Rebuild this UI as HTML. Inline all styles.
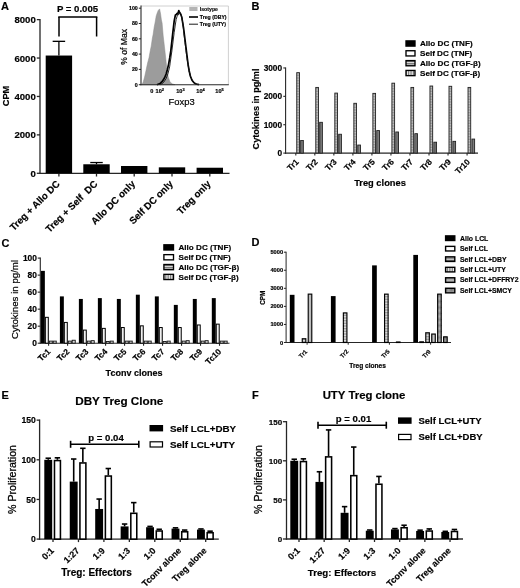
<!DOCTYPE html>
<html><head><meta charset="utf-8"><title>Figure</title>
<style>
html,body{margin:0;padding:0;background:#fff;}
body{width:520px;height:588px;overflow:hidden;font-family:"Liberation Sans",sans-serif;}
svg{display:block;font-family:"Liberation Sans",sans-serif;}
svg text{stroke:#000;stroke-width:0.18px;}
</style></head><body>
<svg width="520" height="588" viewBox="0 0 520 588">
<rect width="520" height="588" fill="#fff"/>
<filter id="soft" x="0" y="0" width="520" height="588" filterUnits="userSpaceOnUse"><feGaussianBlur stdDeviation="0.4"/></filter>
<g filter="url(#soft)">
<defs>
<pattern id="hs" width="2" height="1.6" patternUnits="userSpaceOnUse"><rect width="2" height="1.6" fill="#c4c4c4"/><rect width="2" height="0.7" fill="#8e8e8e"/></pattern>
<pattern id="vs" width="1.6" height="2" patternUnits="userSpaceOnUse"><rect width="1.6" height="2" fill="#8a8a8a"/><rect width="0.6" height="2" fill="#5c5c5c"/></pattern>
<pattern id="hsL" width="2" height="1.7" patternUnits="userSpaceOnUse"><rect width="2" height="1.7" fill="#dcdcdc"/><rect width="2" height="0.75" fill="#555"/></pattern>
<pattern id="vsL" width="1.7" height="2" patternUnits="userSpaceOnUse"><rect width="1.7" height="2" fill="#f0f0f0"/><rect width="0.65" height="2" fill="#555"/></pattern>
<pattern id="vsD" width="1.6" height="2" patternUnits="userSpaceOnUse"><rect width="1.6" height="2" fill="#d6d6d6"/><rect width="0.6" height="2" fill="#a0a0a0"/></pattern>
<pattern id="hsD" width="2" height="1.6" patternUnits="userSpaceOnUse"><rect width="2" height="1.6" fill="#e2e2e2"/><rect width="2" height="0.7" fill="#8a8a8a"/></pattern>
<pattern id="hd" width="2" height="1.2" patternUnits="userSpaceOnUse"><rect width="2" height="1.2" fill="#b4b4b4"/><rect width="2" height="0.5" fill="#8c8c8c"/></pattern>
<pattern id="dk" width="1.2" height="1.2" patternUnits="userSpaceOnUse"><rect width="1.2" height="1.2" fill="#9a9a9a"/><rect width="0.6" height="0.6" fill="#777"/></pattern>
</defs>
<text x="1.00" y="10.30" font-size="11" font-weight="bold" text-anchor="start" fill="#000">A</text>
<line x1="40.00" y1="18.97" x2="40.00" y2="173.95" stroke="#262626" stroke-width="1.3" stroke-linecap="butt"/>
<line x1="36.80" y1="173.30" x2="40.00" y2="173.30" stroke="#262626" stroke-width="1.3" stroke-linecap="butt"/>
<text x="35.80" y="176.76" font-size="9.6" font-weight="bold" text-anchor="end" fill="#000">0</text>
<line x1="36.80" y1="134.88" x2="40.00" y2="134.88" stroke="#262626" stroke-width="1.3" stroke-linecap="butt"/>
<text x="35.80" y="138.34" font-size="9.6" font-weight="bold" text-anchor="end" fill="#000">2000</text>
<line x1="36.80" y1="96.46" x2="40.00" y2="96.46" stroke="#262626" stroke-width="1.3" stroke-linecap="butt"/>
<text x="35.80" y="99.92" font-size="9.6" font-weight="bold" text-anchor="end" fill="#000">4000</text>
<line x1="36.80" y1="58.04" x2="40.00" y2="58.04" stroke="#262626" stroke-width="1.3" stroke-linecap="butt"/>
<text x="35.80" y="61.50" font-size="9.6" font-weight="bold" text-anchor="end" fill="#000">6000</text>
<line x1="36.80" y1="19.62" x2="40.00" y2="19.62" stroke="#262626" stroke-width="1.3" stroke-linecap="butt"/>
<text x="35.80" y="23.08" font-size="9.6" font-weight="bold" text-anchor="end" fill="#000">8000</text>
<text x="8.80" y="96.00" font-size="9.3" font-weight="bold" text-anchor="middle" fill="#000" transform="rotate(-90 8.80 96.00)">CPM</text>
<line x1="39.35" y1="173.30" x2="229.50" y2="173.30" stroke="#262626" stroke-width="1.3" stroke-linecap="butt"/>
<line x1="58.90" y1="173.30" x2="58.90" y2="176.50" stroke="#262626" stroke-width="1.3" stroke-linecap="butt"/>
<line x1="96.50" y1="173.30" x2="96.50" y2="176.50" stroke="#262626" stroke-width="1.3" stroke-linecap="butt"/>
<line x1="134.20" y1="173.30" x2="134.20" y2="176.50" stroke="#262626" stroke-width="1.3" stroke-linecap="butt"/>
<line x1="172.00" y1="173.30" x2="172.00" y2="176.50" stroke="#262626" stroke-width="1.3" stroke-linecap="butt"/>
<line x1="209.80" y1="173.30" x2="209.80" y2="176.50" stroke="#262626" stroke-width="1.3" stroke-linecap="butt"/>
<line x1="58.90" y1="55.54" x2="58.90" y2="41.33" stroke="#000" stroke-width="1.3" stroke-linecap="butt"/>
<line x1="52.65" y1="41.33" x2="65.15" y2="41.33" stroke="#000" stroke-width="1.3" stroke-linecap="butt"/>
<rect x="45.70" y="55.54" width="26.40" height="117.76" fill="#000"/>
<line x1="96.50" y1="164.27" x2="96.50" y2="162.54" stroke="#000" stroke-width="1.3" stroke-linecap="butt"/>
<line x1="90.25" y1="162.54" x2="102.75" y2="162.54" stroke="#000" stroke-width="1.3" stroke-linecap="butt"/>
<rect x="83.30" y="164.27" width="26.40" height="9.03" fill="#000"/>
<rect x="121.00" y="166.00" width="26.40" height="7.30" fill="#000"/>
<rect x="158.80" y="167.34" width="26.40" height="5.96" fill="#000"/>
<rect x="196.60" y="167.73" width="26.40" height="5.57" fill="#000"/>
<text x="60.50" y="184.50" font-size="9.7" font-weight="bold" text-anchor="end" fill="#000" transform="rotate(-45 60.50 184.50)">Treg + Allo DC</text>
<text x="98.10" y="184.50" font-size="9.7" font-weight="bold" text-anchor="end" fill="#000" transform="rotate(-45 98.10 184.50)">Treg + Self&#160;&#160;DC</text>
<text x="135.80" y="184.50" font-size="9.7" font-weight="bold" text-anchor="end" fill="#000" transform="rotate(-45 135.80 184.50)">Allo DC only</text>
<text x="173.60" y="184.50" font-size="9.7" font-weight="bold" text-anchor="end" fill="#000" transform="rotate(-45 173.60 184.50)">Self DC only</text>
<text x="211.40" y="184.50" font-size="9.7" font-weight="bold" text-anchor="end" fill="#000" transform="rotate(-45 211.40 184.50)">Treg only</text>
<line x1="59.00" y1="36.50" x2="59.00" y2="17.00" stroke="#000" stroke-width="1.5" stroke-linecap="butt"/>
<line x1="58.25" y1="17.00" x2="97.35" y2="17.00" stroke="#000" stroke-width="1.5" stroke-linecap="butt"/>
<line x1="96.60" y1="17.00" x2="96.60" y2="36.50" stroke="#000" stroke-width="1.5" stroke-linecap="butt"/>
<text x="77.50" y="12.20" font-size="9.6" font-weight="bold" text-anchor="middle" fill="#000">P = 0.005</text>
<path d="M141 6 L228.4 6 L228.4 84.7" fill="none" stroke="#c4c4c4" stroke-width="0.8"/>
<path d="M141.80 84.70 L143.20 82.00 L144.60 77.00 L146.00 70.50 L147.60 63.00 L149.00 57.70 L150.40 50.00 L151.20 46.20 L152.40 38.00 L153.10 34.60 L154.20 27.00 L155.00 23.00 L156.20 16.00 L157.20 13.00 L158.20 10.50 L159.60 8.90 L160.60 14.00 L161.40 20.00 L162.10 23.00 L163.20 36.00 L164.40 46.20 L165.60 57.00 L166.90 69.20 L168.20 77.00 L170.00 82.00 L172.50 84.00 L175.00 84.70 Z" fill="#9c9c9c" stroke="#8c8c8c" stroke-width="0.5" stroke-linejoin="round"/>
<path d="M156.90 84.70 L160.00 83.60 L162.70 80.80 L164.60 77.80 L166.20 73.80 L167.40 69.50 L168.50 64.60 L169.70 58.00 L170.80 50.80 L172.60 34.60 L174.20 20.80 L175.40 15.00 L176.20 14.60 L177.20 13.40 L177.90 13.80 L178.80 10.60 L179.60 12.60 L180.50 13.80 L181.80 17.30 L183.50 27.70 L185.80 46.20 L188.10 64.60 L189.20 71.00 L190.40 76.20 L192.00 80.30 L193.80 82.60 L196.00 84.00 L199.00 84.70" fill="none" stroke="#000" stroke-width="1.7" stroke-linejoin="round"/>
<path d="M160.40 84.70 L163.50 82.50 L166.20 78.50 L168.00 73.50 L169.60 66.90 L171.90 50.80 L174.20 32.30 L176.10 19.60 L177.70 14.30 L178.60 14.80 L179.50 11.40 L180.40 13.20 L181.20 14.30 L182.80 23.10 L184.60 39.20 L186.90 57.70 L189.20 71.50 L190.80 77.00 L192.70 80.80 L195.00 83.40 L198.00 84.70" fill="none" stroke="#111" stroke-width="0.9" stroke-linejoin="round"/>
<line x1="141.00" y1="5.60" x2="141.00" y2="85.25" stroke="#262626" stroke-width="1.1" stroke-linecap="butt"/>
<line x1="140.45" y1="84.70" x2="228.80" y2="84.70" stroke="#262626" stroke-width="1.1" stroke-linecap="butt"/>
<line x1="138.80" y1="84.70" x2="141.00" y2="84.70" stroke="#262626" stroke-width="1.0" stroke-linecap="butt"/>
<text x="137.80" y="86.60" font-size="5.3" font-weight="bold" text-anchor="end" fill="#000">0</text>
<line x1="138.80" y1="69.40" x2="141.00" y2="69.40" stroke="#262626" stroke-width="1.0" stroke-linecap="butt"/>
<text x="137.80" y="71.30" font-size="5.3" font-weight="bold" text-anchor="end" fill="#000">20</text>
<line x1="138.80" y1="54.10" x2="141.00" y2="54.10" stroke="#262626" stroke-width="1.0" stroke-linecap="butt"/>
<text x="137.80" y="56.00" font-size="5.3" font-weight="bold" text-anchor="end" fill="#000">40</text>
<line x1="138.80" y1="38.80" x2="141.00" y2="38.80" stroke="#262626" stroke-width="1.0" stroke-linecap="butt"/>
<text x="137.80" y="40.70" font-size="5.3" font-weight="bold" text-anchor="end" fill="#000">60</text>
<line x1="138.80" y1="23.50" x2="141.00" y2="23.50" stroke="#262626" stroke-width="1.0" stroke-linecap="butt"/>
<text x="137.80" y="25.40" font-size="5.3" font-weight="bold" text-anchor="end" fill="#000">80</text>
<line x1="138.80" y1="8.20" x2="141.00" y2="8.20" stroke="#262626" stroke-width="1.0" stroke-linecap="butt"/>
<text x="137.80" y="10.10" font-size="5.3" font-weight="bold" text-anchor="end" fill="#000">100</text>
<text x="127.20" y="46.80" font-size="8.6" font-weight="normal" text-anchor="middle" fill="#000" transform="rotate(-90 127.20 46.80)" style="stroke:#000;stroke-width:0.2px">% of Max</text>
<text x="181.60" y="104.80" font-size="9.4" font-weight="normal" text-anchor="middle" fill="#000" style="stroke:#000;stroke-width:0.2px">Foxp3</text>
<text x="151.90" y="93.20" font-size="5.6" font-weight="bold" text-anchor="middle" fill="#000">0</text>
<text x="159.8" y="93.2" font-size="5.6" font-weight="bold" text-anchor="middle" fill="#000">10<tspan dy="-2.2" font-size="4">2</tspan></text>
<text x="180.4" y="93.2" font-size="5.6" font-weight="bold" text-anchor="middle" fill="#000">10<tspan dy="-2.2" font-size="4">3</tspan></text>
<text x="200.5" y="93.2" font-size="5.6" font-weight="bold" text-anchor="middle" fill="#000">10<tspan dy="-2.2" font-size="4">4</tspan></text>
<text x="219.6" y="93.2" font-size="5.6" font-weight="bold" text-anchor="middle" fill="#000">10<tspan dy="-2.2" font-size="4">5</tspan></text>
<rect x="189.30" y="7.00" width="8.20" height="4.00" fill="#b4b4b4"/>
<text x="199.80" y="10.90" font-size="5.2" font-weight="bold" text-anchor="start" fill="#222">Isotype</text>
<line x1="189.00" y1="17.00" x2="198.00" y2="17.00" stroke="#000" stroke-width="1.6" stroke-linecap="butt"/>
<text x="199.80" y="18.90" font-size="5.2" font-weight="bold" text-anchor="start" fill="#000">Treg (DBY)</text>
<line x1="189.00" y1="24.20" x2="198.00" y2="24.20" stroke="#000" stroke-width="0.9" stroke-linecap="butt"/>
<text x="199.80" y="26.10" font-size="5.2" font-weight="bold" text-anchor="start" fill="#000">Treg (UTY)</text>
<text x="251.50" y="10.00" font-size="11" font-weight="bold" text-anchor="start" fill="#000">B</text>
<line x1="285.60" y1="67.41" x2="285.60" y2="153.65" stroke="#262626" stroke-width="1.1" stroke-linecap="butt"/>
<line x1="283.30" y1="153.10" x2="285.60" y2="153.10" stroke="#262626" stroke-width="1.1" stroke-linecap="butt"/>
<text x="282.10" y="156.09" font-size="8.3" font-weight="bold" text-anchor="end" fill="#000">0</text>
<line x1="283.30" y1="124.72" x2="285.60" y2="124.72" stroke="#262626" stroke-width="1.1" stroke-linecap="butt"/>
<text x="282.10" y="127.71" font-size="8.3" font-weight="bold" text-anchor="end" fill="#000">1000</text>
<line x1="283.30" y1="96.34" x2="285.60" y2="96.34" stroke="#262626" stroke-width="1.1" stroke-linecap="butt"/>
<text x="282.10" y="99.33" font-size="8.3" font-weight="bold" text-anchor="end" fill="#000">2000</text>
<line x1="283.30" y1="67.96" x2="285.60" y2="67.96" stroke="#262626" stroke-width="1.1" stroke-linecap="butt"/>
<text x="282.10" y="70.95" font-size="8.3" font-weight="bold" text-anchor="end" fill="#000">3000</text>
<text x="258.90" y="109.00" font-size="9.1" font-weight="bold" text-anchor="middle" fill="#000" transform="rotate(-90 258.90 109.00)">Cytokines in pg/ml</text>
<line x1="285.05" y1="153.10" x2="478.00" y2="153.10" stroke="#262626" stroke-width="1.1" stroke-linecap="butt"/>
<line x1="295.80" y1="153.10" x2="295.80" y2="155.50" stroke="#262626" stroke-width="1.1" stroke-linecap="butt"/>
<line x1="314.83" y1="153.10" x2="314.83" y2="155.50" stroke="#262626" stroke-width="1.1" stroke-linecap="butt"/>
<line x1="333.86" y1="153.10" x2="333.86" y2="155.50" stroke="#262626" stroke-width="1.1" stroke-linecap="butt"/>
<line x1="352.89" y1="153.10" x2="352.89" y2="155.50" stroke="#262626" stroke-width="1.1" stroke-linecap="butt"/>
<line x1="371.92" y1="153.10" x2="371.92" y2="155.50" stroke="#262626" stroke-width="1.1" stroke-linecap="butt"/>
<line x1="390.95" y1="153.10" x2="390.95" y2="155.50" stroke="#262626" stroke-width="1.1" stroke-linecap="butt"/>
<line x1="409.98" y1="153.10" x2="409.98" y2="155.50" stroke="#262626" stroke-width="1.1" stroke-linecap="butt"/>
<line x1="429.01" y1="153.10" x2="429.01" y2="155.50" stroke="#262626" stroke-width="1.1" stroke-linecap="butt"/>
<line x1="448.04" y1="153.10" x2="448.04" y2="155.50" stroke="#262626" stroke-width="1.1" stroke-linecap="butt"/>
<line x1="467.07" y1="153.10" x2="467.07" y2="155.50" stroke="#262626" stroke-width="1.1" stroke-linecap="butt"/>
<rect x="296.75" y="72.67" width="2.70" height="80.43" fill="url(#hs)" stroke="#222" stroke-width="0.9"/>
<rect x="300.65" y="140.50" width="2.70" height="12.60" fill="url(#vs)" stroke="#222" stroke-width="0.9"/>
<rect x="315.78" y="87.42" width="2.70" height="65.68" fill="url(#hs)" stroke="#222" stroke-width="0.9"/>
<rect x="319.68" y="122.33" width="2.70" height="30.77" fill="url(#vs)" stroke="#222" stroke-width="0.9"/>
<rect x="334.81" y="93.10" width="2.70" height="60.00" fill="url(#hs)" stroke="#222" stroke-width="0.9"/>
<rect x="338.71" y="134.25" width="2.70" height="18.85" fill="url(#vs)" stroke="#222" stroke-width="0.9"/>
<rect x="353.84" y="103.32" width="2.70" height="49.78" fill="url(#hs)" stroke="#222" stroke-width="0.9"/>
<rect x="357.74" y="145.04" width="2.70" height="8.06" fill="url(#vs)" stroke="#222" stroke-width="0.9"/>
<rect x="372.87" y="93.38" width="2.70" height="59.72" fill="url(#hs)" stroke="#222" stroke-width="0.9"/>
<rect x="376.77" y="130.56" width="2.70" height="22.54" fill="url(#vs)" stroke="#222" stroke-width="0.9"/>
<rect x="391.90" y="83.17" width="2.70" height="69.93" fill="url(#hs)" stroke="#222" stroke-width="0.9"/>
<rect x="395.80" y="131.98" width="2.70" height="21.12" fill="url(#vs)" stroke="#222" stroke-width="0.9"/>
<rect x="410.93" y="87.42" width="2.70" height="65.68" fill="url(#hs)" stroke="#222" stroke-width="0.9"/>
<rect x="414.83" y="133.68" width="2.70" height="19.42" fill="url(#vs)" stroke="#222" stroke-width="0.9"/>
<rect x="429.96" y="86.01" width="2.70" height="67.09" fill="url(#hs)" stroke="#222" stroke-width="0.9"/>
<rect x="433.86" y="142.20" width="2.70" height="10.90" fill="url(#vs)" stroke="#222" stroke-width="0.9"/>
<rect x="448.99" y="86.29" width="2.70" height="66.81" fill="url(#hs)" stroke="#222" stroke-width="0.9"/>
<rect x="452.89" y="141.35" width="2.70" height="11.75" fill="url(#vs)" stroke="#222" stroke-width="0.9"/>
<rect x="468.02" y="87.42" width="2.70" height="65.68" fill="url(#hs)" stroke="#222" stroke-width="0.9"/>
<rect x="471.92" y="139.08" width="2.70" height="14.02" fill="url(#vs)" stroke="#222" stroke-width="0.9"/>
<text x="299.30" y="162.50" font-size="8.3" font-weight="bold" text-anchor="end" fill="#000" transform="rotate(-45 299.30 162.50)">Tr1</text>
<text x="318.33" y="162.50" font-size="8.3" font-weight="bold" text-anchor="end" fill="#000" transform="rotate(-45 318.33 162.50)">Tr2</text>
<text x="337.36" y="162.50" font-size="8.3" font-weight="bold" text-anchor="end" fill="#000" transform="rotate(-45 337.36 162.50)">Tr3</text>
<text x="356.39" y="162.50" font-size="8.3" font-weight="bold" text-anchor="end" fill="#000" transform="rotate(-45 356.39 162.50)">Tr4</text>
<text x="375.42" y="162.50" font-size="8.3" font-weight="bold" text-anchor="end" fill="#000" transform="rotate(-45 375.42 162.50)">Tr5</text>
<text x="394.45" y="162.50" font-size="8.3" font-weight="bold" text-anchor="end" fill="#000" transform="rotate(-45 394.45 162.50)">Tr6</text>
<text x="413.48" y="162.50" font-size="8.3" font-weight="bold" text-anchor="end" fill="#000" transform="rotate(-45 413.48 162.50)">Tr7</text>
<text x="432.51" y="162.50" font-size="8.3" font-weight="bold" text-anchor="end" fill="#000" transform="rotate(-45 432.51 162.50)">Tr8</text>
<text x="451.54" y="162.50" font-size="8.3" font-weight="bold" text-anchor="end" fill="#000" transform="rotate(-45 451.54 162.50)">Tr9</text>
<text x="470.57" y="162.50" font-size="8.3" font-weight="bold" text-anchor="end" fill="#000" transform="rotate(-45 470.57 162.50)">Tr10</text>
<text x="380.00" y="186.30" font-size="9.3" font-weight="bold" text-anchor="middle" fill="#000">Treg clones</text>
<rect x="406.00" y="40.90" width="9.00" height="5.20" fill="#000" stroke="#000" stroke-width="1.35"/>
<text x="420.00" y="46.40" font-size="8.1" font-weight="bold" text-anchor="start" fill="#000">Allo DC (TNF)</text>
<rect x="406.00" y="50.75" width="9.00" height="5.20" fill="#fff" stroke="#000" stroke-width="1.35"/>
<text x="420.00" y="56.25" font-size="8.1" font-weight="bold" text-anchor="start" fill="#000">Self DC (TNF)</text>
<rect x="406.00" y="60.60" width="9.00" height="5.20" fill="url(#hsL)" stroke="#000" stroke-width="1.35"/>
<text x="420.00" y="66.10" font-size="8.1" font-weight="bold" text-anchor="start" fill="#000">Allo DC (TGF-&#946;)</text>
<rect x="406.00" y="70.45" width="9.00" height="5.20" fill="url(#vsL)" stroke="#000" stroke-width="1.35"/>
<text x="420.00" y="75.95" font-size="8.1" font-weight="bold" text-anchor="start" fill="#000">Self DC (TGF-&#946;)</text>
<text x="1.50" y="247.20" font-size="11" font-weight="bold" text-anchor="start" fill="#000">C</text>
<line x1="40.30" y1="257.55" x2="40.30" y2="343.75" stroke="#262626" stroke-width="1.1" stroke-linecap="butt"/>
<line x1="37.70" y1="343.20" x2="40.30" y2="343.20" stroke="#262626" stroke-width="1.1" stroke-linecap="butt"/>
<text x="36.90" y="346.22" font-size="8.4" font-weight="bold" text-anchor="end" fill="#000">0</text>
<line x1="37.70" y1="326.18" x2="40.30" y2="326.18" stroke="#262626" stroke-width="1.1" stroke-linecap="butt"/>
<text x="36.90" y="329.20" font-size="8.4" font-weight="bold" text-anchor="end" fill="#000">20</text>
<line x1="37.70" y1="309.16" x2="40.30" y2="309.16" stroke="#262626" stroke-width="1.1" stroke-linecap="butt"/>
<text x="36.90" y="312.18" font-size="8.4" font-weight="bold" text-anchor="end" fill="#000">40</text>
<line x1="37.70" y1="292.14" x2="40.30" y2="292.14" stroke="#262626" stroke-width="1.1" stroke-linecap="butt"/>
<text x="36.90" y="295.16" font-size="8.4" font-weight="bold" text-anchor="end" fill="#000">60</text>
<line x1="37.70" y1="275.12" x2="40.30" y2="275.12" stroke="#262626" stroke-width="1.1" stroke-linecap="butt"/>
<text x="36.90" y="278.14" font-size="8.4" font-weight="bold" text-anchor="end" fill="#000">80</text>
<line x1="37.70" y1="258.10" x2="40.30" y2="258.10" stroke="#262626" stroke-width="1.1" stroke-linecap="butt"/>
<text x="36.90" y="261.12" font-size="8.4" font-weight="bold" text-anchor="end" fill="#000">100</text>
<text x="18.30" y="299.50" font-size="9.7" font-weight="normal" text-anchor="middle" fill="#000" transform="rotate(-90 18.30 299.50)" style="stroke:#000;stroke-width:0.22px">Cytokines in pg/ml</text>
<line x1="39.75" y1="343.20" x2="229.50" y2="343.20" stroke="#262626" stroke-width="1.1" stroke-linecap="butt"/>
<line x1="48.60" y1="343.20" x2="48.60" y2="345.80" stroke="#262626" stroke-width="1.1" stroke-linecap="butt"/>
<line x1="67.59" y1="343.20" x2="67.59" y2="345.80" stroke="#262626" stroke-width="1.1" stroke-linecap="butt"/>
<line x1="86.58" y1="343.20" x2="86.58" y2="345.80" stroke="#262626" stroke-width="1.1" stroke-linecap="butt"/>
<line x1="105.57" y1="343.20" x2="105.57" y2="345.80" stroke="#262626" stroke-width="1.1" stroke-linecap="butt"/>
<line x1="124.56" y1="343.20" x2="124.56" y2="345.80" stroke="#262626" stroke-width="1.1" stroke-linecap="butt"/>
<line x1="143.55" y1="343.20" x2="143.55" y2="345.80" stroke="#262626" stroke-width="1.1" stroke-linecap="butt"/>
<line x1="162.54" y1="343.20" x2="162.54" y2="345.80" stroke="#262626" stroke-width="1.1" stroke-linecap="butt"/>
<line x1="181.53" y1="343.20" x2="181.53" y2="345.80" stroke="#262626" stroke-width="1.1" stroke-linecap="butt"/>
<line x1="200.52" y1="343.20" x2="200.52" y2="345.80" stroke="#262626" stroke-width="1.1" stroke-linecap="butt"/>
<line x1="219.51" y1="343.20" x2="219.51" y2="345.80" stroke="#262626" stroke-width="1.1" stroke-linecap="butt"/>
<rect x="40.90" y="270.87" width="3.95" height="72.33" fill="#000"/>
<rect x="45.35" y="317.32" width="2.95" height="25.88" fill="#f0f0f0" stroke="#000" stroke-width="1.0"/>
<rect x="49.25" y="341.10" width="3.05" height="2.10" fill="#d8d8d8" stroke="#111" stroke-width="0.9"/>
<rect x="53.20" y="341.10" width="3.05" height="2.10" fill="#d8d8d8" stroke="#111" stroke-width="0.9"/>
<rect x="59.89" y="296.39" width="3.95" height="46.81" fill="#000"/>
<rect x="64.34" y="322.43" width="2.95" height="20.77" fill="#f0f0f0" stroke="#000" stroke-width="1.0"/>
<rect x="68.24" y="341.10" width="3.05" height="2.10" fill="#d8d8d8" stroke="#111" stroke-width="0.9"/>
<rect x="72.19" y="340.25" width="3.05" height="2.95" fill="#d8d8d8" stroke="#111" stroke-width="0.9"/>
<rect x="78.88" y="298.95" width="3.95" height="44.25" fill="#000"/>
<rect x="83.33" y="330.08" width="2.95" height="13.12" fill="#f0f0f0" stroke="#000" stroke-width="1.0"/>
<rect x="87.23" y="341.10" width="3.05" height="2.10" fill="#d8d8d8" stroke="#111" stroke-width="0.9"/>
<rect x="91.18" y="340.67" width="3.05" height="2.53" fill="#d8d8d8" stroke="#111" stroke-width="0.9"/>
<rect x="97.87" y="298.10" width="3.95" height="45.10" fill="#000"/>
<rect x="102.32" y="328.38" width="2.95" height="14.82" fill="#f0f0f0" stroke="#000" stroke-width="1.0"/>
<rect x="106.22" y="341.52" width="3.05" height="1.68" fill="#d8d8d8" stroke="#111" stroke-width="0.9"/>
<rect x="110.17" y="341.10" width="3.05" height="2.10" fill="#d8d8d8" stroke="#111" stroke-width="0.9"/>
<rect x="116.86" y="298.95" width="3.95" height="44.25" fill="#000"/>
<rect x="121.31" y="327.53" width="2.95" height="15.67" fill="#f0f0f0" stroke="#000" stroke-width="1.0"/>
<rect x="125.21" y="341.10" width="3.05" height="2.10" fill="#d8d8d8" stroke="#111" stroke-width="0.9"/>
<rect x="129.16" y="341.10" width="3.05" height="2.10" fill="#d8d8d8" stroke="#111" stroke-width="0.9"/>
<rect x="135.85" y="294.69" width="3.95" height="48.51" fill="#000"/>
<rect x="140.30" y="325.83" width="2.95" height="17.37" fill="#f0f0f0" stroke="#000" stroke-width="1.0"/>
<rect x="144.20" y="341.10" width="3.05" height="2.10" fill="#d8d8d8" stroke="#111" stroke-width="0.9"/>
<rect x="148.15" y="341.10" width="3.05" height="2.10" fill="#d8d8d8" stroke="#111" stroke-width="0.9"/>
<rect x="154.84" y="296.39" width="3.95" height="46.81" fill="#000"/>
<rect x="159.29" y="327.53" width="2.95" height="15.67" fill="#f0f0f0" stroke="#000" stroke-width="1.0"/>
<rect x="163.19" y="341.52" width="3.05" height="1.68" fill="#d8d8d8" stroke="#111" stroke-width="0.9"/>
<rect x="167.14" y="341.10" width="3.05" height="2.10" fill="#d8d8d8" stroke="#111" stroke-width="0.9"/>
<rect x="173.83" y="304.90" width="3.95" height="38.30" fill="#000"/>
<rect x="178.28" y="327.53" width="2.95" height="15.67" fill="#f0f0f0" stroke="#000" stroke-width="1.0"/>
<rect x="182.18" y="341.10" width="3.05" height="2.10" fill="#d8d8d8" stroke="#111" stroke-width="0.9"/>
<rect x="186.13" y="340.67" width="3.05" height="2.53" fill="#d8d8d8" stroke="#111" stroke-width="0.9"/>
<rect x="192.82" y="298.95" width="3.95" height="44.25" fill="#000"/>
<rect x="197.27" y="324.98" width="2.95" height="18.22" fill="#f0f0f0" stroke="#000" stroke-width="1.0"/>
<rect x="201.17" y="341.10" width="3.05" height="2.10" fill="#d8d8d8" stroke="#111" stroke-width="0.9"/>
<rect x="205.12" y="340.67" width="3.05" height="2.53" fill="#d8d8d8" stroke="#111" stroke-width="0.9"/>
<rect x="211.81" y="298.10" width="3.95" height="45.10" fill="#000"/>
<rect x="216.26" y="324.13" width="2.95" height="19.07" fill="#f0f0f0" stroke="#000" stroke-width="1.0"/>
<rect x="220.16" y="341.10" width="3.05" height="2.10" fill="#d8d8d8" stroke="#111" stroke-width="0.9"/>
<rect x="224.11" y="341.10" width="3.05" height="2.10" fill="#d8d8d8" stroke="#111" stroke-width="0.9"/>
<text x="51.00" y="352.10" font-size="8.4" font-weight="bold" text-anchor="end" fill="#000" transform="rotate(-45 51.00 352.10)">Tc1</text>
<text x="69.99" y="352.10" font-size="8.4" font-weight="bold" text-anchor="end" fill="#000" transform="rotate(-45 69.99 352.10)">Tc2</text>
<text x="88.98" y="352.10" font-size="8.4" font-weight="bold" text-anchor="end" fill="#000" transform="rotate(-45 88.98 352.10)">Tc3</text>
<text x="107.97" y="352.10" font-size="8.4" font-weight="bold" text-anchor="end" fill="#000" transform="rotate(-45 107.97 352.10)">Tc4</text>
<text x="126.96" y="352.10" font-size="8.4" font-weight="bold" text-anchor="end" fill="#000" transform="rotate(-45 126.96 352.10)">Tc5</text>
<text x="145.95" y="352.10" font-size="8.4" font-weight="bold" text-anchor="end" fill="#000" transform="rotate(-45 145.95 352.10)">Tc6</text>
<text x="164.94" y="352.10" font-size="8.4" font-weight="bold" text-anchor="end" fill="#000" transform="rotate(-45 164.94 352.10)">Tc7</text>
<text x="183.93" y="352.10" font-size="8.4" font-weight="bold" text-anchor="end" fill="#000" transform="rotate(-45 183.93 352.10)">Tc8</text>
<text x="202.92" y="352.10" font-size="8.4" font-weight="bold" text-anchor="end" fill="#000" transform="rotate(-45 202.92 352.10)">Tc9</text>
<text x="221.91" y="352.10" font-size="8.4" font-weight="bold" text-anchor="end" fill="#000" transform="rotate(-45 221.91 352.10)">Tc10</text>
<text x="134.00" y="375.80" font-size="9.0" font-weight="bold" text-anchor="middle" fill="#000">Tconv clones</text>
<rect x="163.90" y="244.80" width="9.60" height="5.20" fill="#000" stroke="#000" stroke-width="1.35"/>
<text x="178.50" y="250.30" font-size="8.1" font-weight="bold" text-anchor="start" fill="#000">Allo DC (TNF)</text>
<rect x="163.90" y="254.65" width="9.60" height="5.20" fill="#fff" stroke="#000" stroke-width="1.35"/>
<text x="178.50" y="260.15" font-size="8.1" font-weight="bold" text-anchor="start" fill="#000">Self DC (TNF)</text>
<rect x="163.90" y="264.50" width="9.60" height="5.20" fill="url(#hsL)" stroke="#000" stroke-width="1.35"/>
<text x="178.50" y="270.00" font-size="8.1" font-weight="bold" text-anchor="start" fill="#000">Allo DC (TGF-&#946;)</text>
<rect x="163.90" y="274.35" width="9.60" height="5.20" fill="url(#vsL)" stroke="#000" stroke-width="1.35"/>
<text x="178.50" y="279.85" font-size="8.1" font-weight="bold" text-anchor="start" fill="#000">Self DC (TGF-&#946;)</text>
<text x="251.50" y="246.40" font-size="11" font-weight="bold" text-anchor="start" fill="#000">D</text>
<line x1="286.10" y1="251.70" x2="286.10" y2="343.00" stroke="#262626" stroke-width="1.0" stroke-linecap="butt"/>
<line x1="283.90" y1="342.50" x2="286.10" y2="342.50" stroke="#262626" stroke-width="1.0" stroke-linecap="butt"/>
<text x="283.10" y="344.55" font-size="5.7" font-weight="bold" text-anchor="end" fill="#000">0</text>
<line x1="283.90" y1="324.44" x2="286.10" y2="324.44" stroke="#262626" stroke-width="1.0" stroke-linecap="butt"/>
<text x="283.10" y="326.49" font-size="5.7" font-weight="bold" text-anchor="end" fill="#000">1000</text>
<line x1="283.90" y1="306.38" x2="286.10" y2="306.38" stroke="#262626" stroke-width="1.0" stroke-linecap="butt"/>
<text x="283.10" y="308.43" font-size="5.7" font-weight="bold" text-anchor="end" fill="#000">2000</text>
<line x1="283.90" y1="288.32" x2="286.10" y2="288.32" stroke="#262626" stroke-width="1.0" stroke-linecap="butt"/>
<text x="283.10" y="290.37" font-size="5.7" font-weight="bold" text-anchor="end" fill="#000">3000</text>
<line x1="283.90" y1="270.26" x2="286.10" y2="270.26" stroke="#262626" stroke-width="1.0" stroke-linecap="butt"/>
<text x="283.10" y="272.31" font-size="5.7" font-weight="bold" text-anchor="end" fill="#000">4000</text>
<line x1="283.90" y1="252.20" x2="286.10" y2="252.20" stroke="#262626" stroke-width="1.0" stroke-linecap="butt"/>
<text x="283.10" y="254.25" font-size="5.7" font-weight="bold" text-anchor="end" fill="#000">5000</text>
<text x="264.80" y="297.70" font-size="6.4" font-weight="bold" text-anchor="middle" fill="#000" transform="rotate(-90 264.80 297.70)">CPM</text>
<line x1="285.60" y1="342.50" x2="451.00" y2="342.50" stroke="#262626" stroke-width="1.0" stroke-linecap="butt"/>
<line x1="307.10" y1="342.50" x2="307.10" y2="344.70" stroke="#262626" stroke-width="1.0" stroke-linecap="butt"/>
<line x1="348.20" y1="342.50" x2="348.20" y2="344.70" stroke="#262626" stroke-width="1.0" stroke-linecap="butt"/>
<line x1="389.40" y1="342.50" x2="389.40" y2="344.70" stroke="#262626" stroke-width="1.0" stroke-linecap="butt"/>
<line x1="430.60" y1="342.50" x2="430.60" y2="344.70" stroke="#262626" stroke-width="1.0" stroke-linecap="butt"/>
<rect x="289.80" y="294.82" width="4.70" height="47.68" fill="#000"/>
<rect x="302.27" y="338.74" width="3.55" height="3.76" fill="url(#hsD)" stroke="#000" stroke-width="1.15"/>
<rect x="308.23" y="294.13" width="3.55" height="48.37" fill="url(#vsD)" stroke="#000" stroke-width="1.15"/>
<rect x="330.90" y="296.09" width="4.70" height="46.41" fill="#000"/>
<rect x="343.37" y="312.91" width="3.55" height="29.59" fill="url(#hsD)" stroke="#000" stroke-width="1.15"/>
<rect x="372.10" y="265.38" width="4.70" height="77.12" fill="#000"/>
<rect x="384.57" y="294.13" width="3.55" height="48.37" fill="url(#hsD)" stroke="#000" stroke-width="1.15"/>
<rect x="396.47" y="341.99" width="3.55" height="0.51" fill="url(#hd)" stroke="#000" stroke-width="1.15"/>
<rect x="413.30" y="254.91" width="4.70" height="87.59" fill="#000"/>
<rect x="419.82" y="341.81" width="3.55" height="0.69" fill="#fff" stroke="#000" stroke-width="1.15"/>
<rect x="425.77" y="332.78" width="3.55" height="9.72" fill="url(#hsD)" stroke="#000" stroke-width="1.15"/>
<rect x="431.73" y="334.05" width="3.55" height="8.45" fill="url(#vsD)" stroke="#000" stroke-width="1.15"/>
<rect x="437.68" y="294.13" width="3.55" height="48.37" fill="url(#hd)" stroke="#000" stroke-width="1.15"/>
<rect x="443.62" y="336.84" width="3.55" height="5.66" fill="url(#dk)" stroke="#000" stroke-width="1.15"/>
<text x="307.70" y="352.00" font-size="6.0" font-weight="bold" text-anchor="end" fill="#000" transform="rotate(-45 307.70 352.00)">Tr1</text>
<text x="348.80" y="352.00" font-size="6.0" font-weight="bold" text-anchor="end" fill="#000" transform="rotate(-45 348.80 352.00)">Tr2</text>
<text x="390.00" y="352.00" font-size="6.0" font-weight="bold" text-anchor="end" fill="#000" transform="rotate(-45 390.00 352.00)">Tr5</text>
<text x="431.20" y="352.00" font-size="6.0" font-weight="bold" text-anchor="end" fill="#000" transform="rotate(-45 431.20 352.00)">Tr9</text>
<text x="367.60" y="367.80" font-size="6.6" font-weight="bold" text-anchor="middle" fill="#000">Treg clones</text>
<rect x="445.60" y="235.90" width="9.20" height="4.60" fill="#000" stroke="#000" stroke-width="1.4"/>
<text x="460.00" y="240.60" font-size="6.9" font-weight="bold" text-anchor="start" fill="#000">Allo LCL</text>
<rect x="445.60" y="246.37" width="9.20" height="4.60" fill="#fff" stroke="#000" stroke-width="1.4"/>
<text x="460.00" y="251.07" font-size="6.9" font-weight="bold" text-anchor="start" fill="#000">Self LCL</text>
<rect x="445.60" y="256.84" width="9.20" height="4.60" fill="url(#hsL)" stroke="#000" stroke-width="1.4"/>
<text x="460.00" y="261.54" font-size="6.9" font-weight="bold" text-anchor="start" fill="#000">Self LCL+DBY</text>
<rect x="445.60" y="267.31" width="9.20" height="4.60" fill="url(#vsL)" stroke="#000" stroke-width="1.4"/>
<text x="460.00" y="272.01" font-size="6.9" font-weight="bold" text-anchor="start" fill="#000">Self LCL+UTY</text>
<rect x="445.60" y="277.78" width="9.20" height="4.60" fill="url(#hd)" stroke="#000" stroke-width="1.4"/>
<text x="460.00" y="282.48" font-size="6.9" font-weight="bold" text-anchor="start" fill="#000">Self LCL+DFFRY2</text>
<rect x="445.60" y="288.25" width="9.20" height="4.60" fill="url(#dk)" stroke="#000" stroke-width="1.4"/>
<text x="460.00" y="292.95" font-size="6.9" font-weight="bold" text-anchor="start" fill="#000">Self LCL+SMCY</text>
<text x="1.50" y="399.20" font-size="11" font-weight="bold" text-anchor="start" fill="#000">E</text>
<text x="119.30" y="404.90" font-size="11.7" font-weight="bold" text-anchor="middle" fill="#000">DBY Treg Clone</text>
<line x1="39.60" y1="419.50" x2="39.60" y2="539.75" stroke="#262626" stroke-width="1.3" stroke-linecap="butt"/>
<line x1="36.60" y1="539.10" x2="39.60" y2="539.10" stroke="#262626" stroke-width="1.3" stroke-linecap="butt"/>
<text x="35.80" y="542.20" font-size="8.6" font-weight="bold" text-anchor="end" fill="#000">0</text>
<line x1="36.60" y1="499.45" x2="39.60" y2="499.45" stroke="#262626" stroke-width="1.3" stroke-linecap="butt"/>
<text x="35.80" y="502.55" font-size="8.6" font-weight="bold" text-anchor="end" fill="#000">50</text>
<line x1="36.60" y1="459.80" x2="39.60" y2="459.80" stroke="#262626" stroke-width="1.3" stroke-linecap="butt"/>
<text x="35.80" y="462.90" font-size="8.6" font-weight="bold" text-anchor="end" fill="#000">100</text>
<line x1="36.60" y1="420.15" x2="39.60" y2="420.15" stroke="#262626" stroke-width="1.3" stroke-linecap="butt"/>
<text x="35.80" y="423.25" font-size="8.6" font-weight="bold" text-anchor="end" fill="#000">150</text>
<text x="16.00" y="479.50" font-size="10.6" font-weight="normal" text-anchor="middle" fill="#000" transform="rotate(-90 16.00 479.50)" style="stroke:#000;stroke-width:0.28px">% Proliferation</text>
<line x1="38.95" y1="539.10" x2="218.80" y2="539.10" stroke="#262626" stroke-width="1.3" stroke-linecap="butt"/>
<line x1="53.00" y1="539.10" x2="53.00" y2="542.10" stroke="#262626" stroke-width="1.3" stroke-linecap="butt"/>
<line x1="78.45" y1="539.10" x2="78.45" y2="542.10" stroke="#262626" stroke-width="1.3" stroke-linecap="butt"/>
<line x1="103.90" y1="539.10" x2="103.90" y2="542.10" stroke="#262626" stroke-width="1.3" stroke-linecap="butt"/>
<line x1="129.35" y1="539.10" x2="129.35" y2="542.10" stroke="#262626" stroke-width="1.3" stroke-linecap="butt"/>
<line x1="154.80" y1="539.10" x2="154.80" y2="542.10" stroke="#262626" stroke-width="1.3" stroke-linecap="butt"/>
<line x1="180.25" y1="539.10" x2="180.25" y2="542.10" stroke="#262626" stroke-width="1.3" stroke-linecap="butt"/>
<line x1="205.70" y1="539.10" x2="205.70" y2="542.10" stroke="#262626" stroke-width="1.3" stroke-linecap="butt"/>
<line x1="48.25" y1="459.80" x2="48.25" y2="458.21" stroke="#000" stroke-width="1.6" stroke-linecap="butt"/>
<line x1="45.55" y1="458.21" x2="50.95" y2="458.21" stroke="#000" stroke-width="1.6" stroke-linecap="butt"/>
<rect x="44.30" y="459.80" width="7.90" height="79.30" fill="#000"/>
<line x1="57.40" y1="459.80" x2="57.40" y2="457.82" stroke="#000" stroke-width="1.6" stroke-linecap="butt"/>
<line x1="54.70" y1="457.82" x2="60.10" y2="457.82" stroke="#000" stroke-width="1.6" stroke-linecap="butt"/>
<rect x="54.48" y="460.57" width="5.95" height="78.53" fill="#fff" stroke="#000" stroke-width="1.55"/>
<line x1="73.70" y1="481.61" x2="73.70" y2="459.01" stroke="#000" stroke-width="1.6" stroke-linecap="butt"/>
<line x1="71.00" y1="459.01" x2="76.40" y2="459.01" stroke="#000" stroke-width="1.6" stroke-linecap="butt"/>
<rect x="69.75" y="481.61" width="7.90" height="57.49" fill="#000"/>
<line x1="82.85" y1="462.18" x2="82.85" y2="448.30" stroke="#000" stroke-width="1.6" stroke-linecap="butt"/>
<line x1="80.15" y1="448.30" x2="85.55" y2="448.30" stroke="#000" stroke-width="1.6" stroke-linecap="butt"/>
<rect x="79.93" y="462.95" width="5.95" height="76.15" fill="#fff" stroke="#000" stroke-width="1.55"/>
<line x1="99.15" y1="508.97" x2="99.15" y2="499.05" stroke="#000" stroke-width="1.6" stroke-linecap="butt"/>
<line x1="96.45" y1="499.05" x2="101.85" y2="499.05" stroke="#000" stroke-width="1.6" stroke-linecap="butt"/>
<rect x="95.20" y="508.97" width="7.90" height="30.13" fill="#000"/>
<line x1="108.30" y1="475.26" x2="108.30" y2="468.52" stroke="#000" stroke-width="1.6" stroke-linecap="butt"/>
<line x1="105.60" y1="468.52" x2="111.00" y2="468.52" stroke="#000" stroke-width="1.6" stroke-linecap="butt"/>
<rect x="105.38" y="476.04" width="5.95" height="63.06" fill="#fff" stroke="#000" stroke-width="1.55"/>
<line x1="124.60" y1="526.41" x2="124.60" y2="524.03" stroke="#000" stroke-width="1.6" stroke-linecap="butt"/>
<line x1="121.90" y1="524.03" x2="127.30" y2="524.03" stroke="#000" stroke-width="1.6" stroke-linecap="butt"/>
<rect x="120.65" y="526.41" width="7.90" height="12.69" fill="#000"/>
<line x1="133.75" y1="512.53" x2="133.75" y2="502.62" stroke="#000" stroke-width="1.6" stroke-linecap="butt"/>
<line x1="131.05" y1="502.62" x2="136.45" y2="502.62" stroke="#000" stroke-width="1.6" stroke-linecap="butt"/>
<rect x="130.82" y="513.31" width="5.95" height="25.79" fill="#fff" stroke="#000" stroke-width="1.55"/>
<line x1="150.05" y1="527.21" x2="150.05" y2="526.41" stroke="#000" stroke-width="1.6" stroke-linecap="butt"/>
<line x1="147.35" y1="526.41" x2="152.75" y2="526.41" stroke="#000" stroke-width="1.6" stroke-linecap="butt"/>
<rect x="146.10" y="527.21" width="7.90" height="11.89" fill="#000"/>
<line x1="159.20" y1="530.22" x2="159.20" y2="529.27" stroke="#000" stroke-width="1.6" stroke-linecap="butt"/>
<line x1="156.50" y1="529.27" x2="161.90" y2="529.27" stroke="#000" stroke-width="1.6" stroke-linecap="butt"/>
<rect x="156.28" y="530.99" width="5.95" height="8.11" fill="#fff" stroke="#000" stroke-width="1.55"/>
<line x1="175.50" y1="528.63" x2="175.50" y2="527.84" stroke="#000" stroke-width="1.6" stroke-linecap="butt"/>
<line x1="172.80" y1="527.84" x2="178.20" y2="527.84" stroke="#000" stroke-width="1.6" stroke-linecap="butt"/>
<rect x="171.55" y="528.63" width="7.90" height="10.47" fill="#000"/>
<line x1="184.65" y1="531.01" x2="184.65" y2="530.06" stroke="#000" stroke-width="1.6" stroke-linecap="butt"/>
<line x1="181.95" y1="530.06" x2="187.35" y2="530.06" stroke="#000" stroke-width="1.6" stroke-linecap="butt"/>
<rect x="181.72" y="531.79" width="5.95" height="7.31" fill="#fff" stroke="#000" stroke-width="1.55"/>
<line x1="200.95" y1="529.58" x2="200.95" y2="528.95" stroke="#000" stroke-width="1.6" stroke-linecap="butt"/>
<line x1="198.25" y1="528.95" x2="203.65" y2="528.95" stroke="#000" stroke-width="1.6" stroke-linecap="butt"/>
<rect x="197.00" y="529.58" width="7.90" height="9.52" fill="#000"/>
<line x1="210.10" y1="531.96" x2="210.10" y2="531.17" stroke="#000" stroke-width="1.6" stroke-linecap="butt"/>
<line x1="207.40" y1="531.17" x2="212.80" y2="531.17" stroke="#000" stroke-width="1.6" stroke-linecap="butt"/>
<rect x="207.17" y="532.74" width="5.95" height="6.36" fill="#fff" stroke="#000" stroke-width="1.55"/>
<text x="54.50" y="551.20" font-size="8.9" font-weight="bold" text-anchor="end" fill="#000" transform="rotate(-45 54.50 551.20)">0:1</text>
<text x="79.95" y="551.20" font-size="8.9" font-weight="bold" text-anchor="end" fill="#000" transform="rotate(-45 79.95 551.20)">1:27</text>
<text x="105.40" y="551.20" font-size="8.9" font-weight="bold" text-anchor="end" fill="#000" transform="rotate(-45 105.40 551.20)">1:9</text>
<text x="130.85" y="551.20" font-size="8.9" font-weight="bold" text-anchor="end" fill="#000" transform="rotate(-45 130.85 551.20)">1:3</text>
<text x="156.30" y="551.20" font-size="8.9" font-weight="bold" text-anchor="end" fill="#000" transform="rotate(-45 156.30 551.20)">1:0</text>
<text x="181.75" y="551.20" font-size="8.9" font-weight="bold" text-anchor="end" fill="#000" transform="rotate(-45 181.75 551.20)">Tconv alone</text>
<text x="207.20" y="551.20" font-size="8.9" font-weight="bold" text-anchor="end" fill="#000" transform="rotate(-45 207.20 551.20)">Treg alone</text>
<text x="96.50" y="575.60" font-size="10.0" font-weight="bold" text-anchor="middle" fill="#000">Treg: Effectors</text>
<line x1="70.60" y1="444.30" x2="138.80" y2="444.30" stroke="#000" stroke-width="1.6" stroke-linecap="butt"/>
<line x1="70.60" y1="440.80" x2="70.60" y2="447.80" stroke="#000" stroke-width="1.6" stroke-linecap="butt"/>
<line x1="138.80" y1="440.80" x2="138.80" y2="447.80" stroke="#000" stroke-width="1.6" stroke-linecap="butt"/>
<text x="106.00" y="441.00" font-size="9.6" font-weight="bold" text-anchor="middle" fill="#000">p = 0.04</text>
<rect x="149.50" y="425.00" width="13.60" height="6.40" fill="#000"/>
<rect x="150.10" y="441.80" width="12.40" height="5.20" fill="#fff" stroke="#000" stroke-width="1.2"/>
<text x="170.00" y="431.60" font-size="9.8" font-weight="bold" text-anchor="start" fill="#000">Self LCL+DBY</text>
<text x="170.00" y="447.80" font-size="9.8" font-weight="bold" text-anchor="start" fill="#000">Self LCL+UTY</text>
<text x="252.00" y="399.20" font-size="11" font-weight="bold" text-anchor="start" fill="#000">F</text>
<text x="364.00" y="398.90" font-size="11.4" font-weight="bold" text-anchor="middle" fill="#000">UTY Treg clone</text>
<line x1="286.50" y1="421.05" x2="286.50" y2="539.65" stroke="#262626" stroke-width="1.3" stroke-linecap="butt"/>
<line x1="282.90" y1="539.00" x2="286.50" y2="539.00" stroke="#262626" stroke-width="1.3" stroke-linecap="butt"/>
<text x="282.10" y="541.88" font-size="8.0" font-weight="bold" text-anchor="end" fill="#000">0</text>
<line x1="282.90" y1="499.90" x2="286.50" y2="499.90" stroke="#262626" stroke-width="1.3" stroke-linecap="butt"/>
<text x="282.10" y="502.78" font-size="8.0" font-weight="bold" text-anchor="end" fill="#000">50</text>
<line x1="282.90" y1="460.80" x2="286.50" y2="460.80" stroke="#262626" stroke-width="1.3" stroke-linecap="butt"/>
<text x="282.10" y="463.68" font-size="8.0" font-weight="bold" text-anchor="end" fill="#000">100</text>
<line x1="282.90" y1="421.70" x2="286.50" y2="421.70" stroke="#262626" stroke-width="1.3" stroke-linecap="butt"/>
<text x="282.10" y="424.58" font-size="8.0" font-weight="bold" text-anchor="end" fill="#000">150</text>
<text x="261.50" y="479.50" font-size="10.6" font-weight="normal" text-anchor="middle" fill="#000" transform="rotate(-90 261.50 479.50)" style="stroke:#000;stroke-width:0.28px">% Proliferation</text>
<line x1="285.85" y1="539.00" x2="463.00" y2="539.00" stroke="#262626" stroke-width="1.3" stroke-linecap="butt"/>
<line x1="299.00" y1="539.00" x2="299.00" y2="542.00" stroke="#262626" stroke-width="1.3" stroke-linecap="butt"/>
<line x1="324.17" y1="539.00" x2="324.17" y2="542.00" stroke="#262626" stroke-width="1.3" stroke-linecap="butt"/>
<line x1="349.34" y1="539.00" x2="349.34" y2="542.00" stroke="#262626" stroke-width="1.3" stroke-linecap="butt"/>
<line x1="374.51" y1="539.00" x2="374.51" y2="542.00" stroke="#262626" stroke-width="1.3" stroke-linecap="butt"/>
<line x1="399.68" y1="539.00" x2="399.68" y2="542.00" stroke="#262626" stroke-width="1.3" stroke-linecap="butt"/>
<line x1="424.85" y1="539.00" x2="424.85" y2="542.00" stroke="#262626" stroke-width="1.3" stroke-linecap="butt"/>
<line x1="450.02" y1="539.00" x2="450.02" y2="542.00" stroke="#262626" stroke-width="1.3" stroke-linecap="butt"/>
<line x1="294.25" y1="460.80" x2="294.25" y2="459.24" stroke="#000" stroke-width="1.6" stroke-linecap="butt"/>
<line x1="291.55" y1="459.24" x2="296.95" y2="459.24" stroke="#000" stroke-width="1.6" stroke-linecap="butt"/>
<rect x="290.30" y="460.80" width="7.90" height="78.20" fill="#000"/>
<line x1="303.40" y1="460.80" x2="303.40" y2="458.85" stroke="#000" stroke-width="1.6" stroke-linecap="butt"/>
<line x1="300.70" y1="458.85" x2="306.10" y2="458.85" stroke="#000" stroke-width="1.6" stroke-linecap="butt"/>
<rect x="300.47" y="461.57" width="5.95" height="77.42" fill="#fff" stroke="#000" stroke-width="1.55"/>
<line x1="319.42" y1="481.91" x2="319.42" y2="471.75" stroke="#000" stroke-width="1.6" stroke-linecap="butt"/>
<line x1="316.72" y1="471.75" x2="322.12" y2="471.75" stroke="#000" stroke-width="1.6" stroke-linecap="butt"/>
<rect x="315.47" y="481.91" width="7.90" height="57.09" fill="#000"/>
<line x1="328.57" y1="456.11" x2="328.57" y2="429.91" stroke="#000" stroke-width="1.6" stroke-linecap="butt"/>
<line x1="325.87" y1="429.91" x2="331.27" y2="429.91" stroke="#000" stroke-width="1.6" stroke-linecap="butt"/>
<rect x="325.64" y="456.88" width="5.95" height="82.12" fill="#fff" stroke="#000" stroke-width="1.55"/>
<line x1="344.59" y1="512.80" x2="344.59" y2="506.63" stroke="#000" stroke-width="1.6" stroke-linecap="butt"/>
<line x1="341.89" y1="506.63" x2="347.29" y2="506.63" stroke="#000" stroke-width="1.6" stroke-linecap="butt"/>
<rect x="340.64" y="512.80" width="7.90" height="26.20" fill="#000"/>
<line x1="353.74" y1="474.88" x2="353.74" y2="447.04" stroke="#000" stroke-width="1.6" stroke-linecap="butt"/>
<line x1="351.04" y1="447.04" x2="356.44" y2="447.04" stroke="#000" stroke-width="1.6" stroke-linecap="butt"/>
<rect x="350.81" y="475.65" width="5.95" height="63.35" fill="#fff" stroke="#000" stroke-width="1.55"/>
<line x1="369.76" y1="530.71" x2="369.76" y2="530.01" stroke="#000" stroke-width="1.6" stroke-linecap="butt"/>
<line x1="367.06" y1="530.01" x2="372.46" y2="530.01" stroke="#000" stroke-width="1.6" stroke-linecap="butt"/>
<rect x="365.81" y="530.71" width="7.90" height="8.29" fill="#000"/>
<line x1="378.91" y1="483.48" x2="378.91" y2="476.44" stroke="#000" stroke-width="1.6" stroke-linecap="butt"/>
<line x1="376.21" y1="476.44" x2="381.61" y2="476.44" stroke="#000" stroke-width="1.6" stroke-linecap="butt"/>
<rect x="375.98" y="484.25" width="5.95" height="54.75" fill="#fff" stroke="#000" stroke-width="1.55"/>
<line x1="394.93" y1="529.38" x2="394.93" y2="528.60" stroke="#000" stroke-width="1.6" stroke-linecap="butt"/>
<line x1="392.23" y1="528.60" x2="397.63" y2="528.60" stroke="#000" stroke-width="1.6" stroke-linecap="butt"/>
<rect x="390.98" y="529.38" width="7.90" height="9.62" fill="#000"/>
<line x1="404.08" y1="526.96" x2="404.08" y2="525.24" stroke="#000" stroke-width="1.6" stroke-linecap="butt"/>
<line x1="401.38" y1="525.24" x2="406.78" y2="525.24" stroke="#000" stroke-width="1.6" stroke-linecap="butt"/>
<rect x="401.15" y="527.73" width="5.95" height="11.27" fill="#fff" stroke="#000" stroke-width="1.55"/>
<line x1="420.10" y1="530.95" x2="420.10" y2="530.16" stroke="#000" stroke-width="1.6" stroke-linecap="butt"/>
<line x1="417.40" y1="530.16" x2="422.80" y2="530.16" stroke="#000" stroke-width="1.6" stroke-linecap="butt"/>
<rect x="416.15" y="530.95" width="7.90" height="8.05" fill="#000"/>
<line x1="429.25" y1="530.24" x2="429.25" y2="528.91" stroke="#000" stroke-width="1.6" stroke-linecap="butt"/>
<line x1="426.55" y1="528.91" x2="431.95" y2="528.91" stroke="#000" stroke-width="1.6" stroke-linecap="butt"/>
<rect x="426.32" y="531.02" width="5.95" height="7.98" fill="#fff" stroke="#000" stroke-width="1.55"/>
<line x1="445.27" y1="531.96" x2="445.27" y2="531.34" stroke="#000" stroke-width="1.6" stroke-linecap="butt"/>
<line x1="442.57" y1="531.34" x2="447.97" y2="531.34" stroke="#000" stroke-width="1.6" stroke-linecap="butt"/>
<rect x="441.32" y="531.96" width="7.90" height="7.04" fill="#000"/>
<line x1="454.42" y1="530.71" x2="454.42" y2="529.46" stroke="#000" stroke-width="1.6" stroke-linecap="butt"/>
<line x1="451.72" y1="529.46" x2="457.12" y2="529.46" stroke="#000" stroke-width="1.6" stroke-linecap="butt"/>
<rect x="451.49" y="531.49" width="5.95" height="7.51" fill="#fff" stroke="#000" stroke-width="1.55"/>
<text x="300.50" y="551.20" font-size="8.9" font-weight="bold" text-anchor="end" fill="#000" transform="rotate(-45 300.50 551.20)">0:1</text>
<text x="325.67" y="551.20" font-size="8.9" font-weight="bold" text-anchor="end" fill="#000" transform="rotate(-45 325.67 551.20)">1:27</text>
<text x="350.84" y="551.20" font-size="8.9" font-weight="bold" text-anchor="end" fill="#000" transform="rotate(-45 350.84 551.20)">1:9</text>
<text x="376.01" y="551.20" font-size="8.9" font-weight="bold" text-anchor="end" fill="#000" transform="rotate(-45 376.01 551.20)">1:3</text>
<text x="401.18" y="551.20" font-size="8.9" font-weight="bold" text-anchor="end" fill="#000" transform="rotate(-45 401.18 551.20)">1:0</text>
<text x="426.35" y="551.20" font-size="8.9" font-weight="bold" text-anchor="end" fill="#000" transform="rotate(-45 426.35 551.20)">Tconv alone</text>
<text x="451.52" y="551.20" font-size="8.9" font-weight="bold" text-anchor="end" fill="#000" transform="rotate(-45 451.52 551.20)">Treg alone</text>
<text x="342.00" y="575.60" font-size="9.7" font-weight="bold" text-anchor="middle" fill="#000">Treg: Effectors</text>
<line x1="318.00" y1="425.20" x2="386.30" y2="425.20" stroke="#000" stroke-width="1.6" stroke-linecap="butt"/>
<line x1="318.00" y1="421.70" x2="318.00" y2="428.70" stroke="#000" stroke-width="1.6" stroke-linecap="butt"/>
<line x1="386.30" y1="421.70" x2="386.30" y2="428.70" stroke="#000" stroke-width="1.6" stroke-linecap="butt"/>
<text x="353.50" y="422.30" font-size="9.6" font-weight="bold" text-anchor="middle" fill="#000">p = 0.01</text>
<rect x="398.00" y="417.40" width="13.60" height="6.40" fill="#000"/>
<rect x="398.60" y="434.40" width="12.40" height="5.20" fill="#fff" stroke="#000" stroke-width="1.2"/>
<text x="418.50" y="424.00" font-size="9.5" font-weight="bold" text-anchor="start" fill="#000">Self LCL+UTY</text>
<text x="418.50" y="440.40" font-size="9.5" font-weight="bold" text-anchor="start" fill="#000">Self LCL+DBY</text>
</g>
</svg>
</body></html>
